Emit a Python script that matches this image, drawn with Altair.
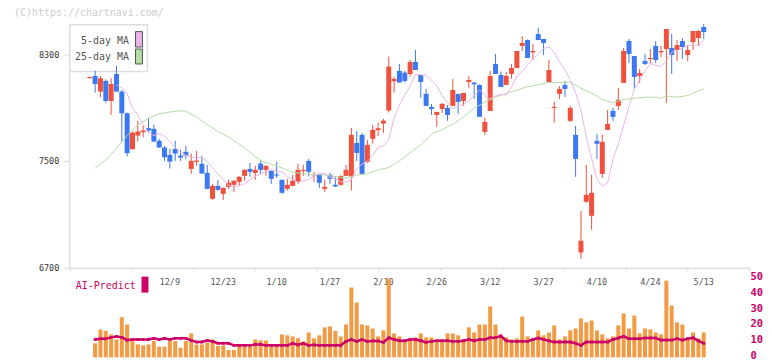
import altair as alt
import pandas as pd

# ---------------- data ----------------
date_labels = ["12/9", "12/23", "1/10", "1/27", "2/10", "2/26", "3/12", "3/27", "4/10", "4/24", "5/13"]
label_idx = [15, 25, 35, 45, 55, 65, 75, 85, 95, 105, 115]

opens = [8120,8136,8019,8099,7949,8151,8019,7857,7588,7690,
         7715,7745,7740,7650,7600,7545,7590,7540,7568,7440,
         7493,7478,7410,7216,7313,7253,7306,7321,7343,7388,
         7440,7410,7480,7433,7425,7398,7358,7291,7313,7343,
         7425,7500,7392,7396,7291,7396,7321,7321,7388,7383,
         7635,7695,7493,7665,7730,7780,7877,8097,8174,8161,
         8151,8241,8144,8002,7904,7844,7889,7897,7912,8002,
         7949,8091,8087,8069,7717,7874,8226,8144,8069,8151,
         8196,8361,8405,8313,8450,8413,8091,7897,8002,8069,
         7800,7695,6814,7194,7089,7650,7403,7732,7874,7912,
         8084,8398,8286,8136,8248,8263,8361,8313,8338,8346,
         8331,8398,8293,8390,8420,8503]
highs = [8132,8176,8136,8111,8119,8213,8031,7862,7720,7800,
         7762,7820,7770,7665,7612,7590,7650,7583,7612,7553,
         7575,7538,7470,7328,7358,7300,7358,7355,7385,7436,
         7485,7463,7508,7466,7428,7493,7361,7366,7396,7478,
         7470,7515,7418,7399,7358,7411,7381,7390,7470,7747,
         7725,7710,7657,7770,7785,7815,8281,8131,8226,8174,
         8256,8331,8144,8039,7927,7867,7934,7919,8114,8002,
         8009,8136,8090,8072,7822,8174,8301,8170,8166,8226,
         8323,8435,8410,8375,8495,8413,8256,7942,8061,8099,
         7912,7762,7126,7470,7396,7702,7695,7882,7897,8046,
         8346,8413,8286,8189,8301,8338,8398,8361,8488,8450,
         8405,8420,8368,8473,8480,8525]
lows = [8118,8011,7977,7937,7844,8019,7645,7533,7585,7645,
        7678,7712,7640,7598,7500,7443,7500,7500,7515,7403,
        7463,7405,7290,7209,7276,7209,7291,7268,7313,7351,
        7381,7358,7403,7388,7328,7373,7253,7276,7310,7328,
        7388,7383,7343,7298,7268,7328,7306,7313,7385,7278,
        7500,7403,7483,7628,7687,7710,7862,8011,8087,8087,
        8131,8181,7972,7912,7844,7755,7859,7800,7912,7852,
        7912,8046,7964,7830,7695,7874,8151,8054,8069,8114,
        8196,8323,8271,8256,8405,8293,8091,7785,7964,7979,
        7792,7381,6767,7186,6984,7515,7373,7732,7800,7882,
        8084,8233,8039,8084,8218,8226,8233,8278,7934,8151,
        8248,8263,8248,8331,8361,8413]
closes = [8128,8076,8119,7949,8076,8019,7857,7558,7712,7720,
          7727,7727,7645,7600,7528,7495,7555,7525,7540,7500,
          7503,7405,7290,7313,7283,7298,7336,7351,7381,7433,
          7418,7433,7433,7463,7366,7390,7261,7321,7351,7433,
          7433,7418,7400,7336,7306,7366,7308,7388,7433,7695,
          7560,7403,7620,7732,7745,7802,8206,8114,8087,8099,
          8241,8181,8091,7912,7889,7867,7927,7844,8031,7942,
          8009,8106,8074,7830,7792,8136,8151,8054,8136,8196,
          8323,8383,8271,8323,8405,8383,8181,7905,8039,8039,
          7897,7515,6902,7246,7261,7628,7643,7777,7830,7957,
          8323,8301,8129,8159,8226,8271,8256,8323,8488,8293,
          8368,8353,8331,8473,8473,8465]

# 5-day MA, from candle index 5 onwards
ma5 = [8069,8048,8004,7892,7844,7773,7715,7689,7706,7684,
       7645,7599,7565,7541,7529,7523,7525,7495,7448,7402,
       7359,7318,7304,7316,7330,7360,7384,7403,7420,7436,
       7423,7418,7383,7361,7339,7352,7360,7391,7407,7404,
       7378,7365,7343,7341,7360,7438,7477,7496,7542,7602,
       7612,7660,7821,7920,7991,8062,8149,8144,8140,8105,
       8063,7988,7937,7888,7912,7922,7951,7986,8032,7992,
       7962,7988,7997,7993,8054,8135,8172,8218,8262,8299,
       8341,8353,8313,8239,8182,8109,8012,7879,7678,7520,
       7364,7310,7336,7511,7628,7767,7906,8038,8108,8174,
       8228,8217,8208,8247,8313,8326,8346,8365,8367,8364,8400]

# 25-day MA, sampled along the curve
ma25_idx = [1,3,5,7,9,11,13,15,17,18,20,22,24,26,28,30,32,34,36,38,40,42,44,46,48,
            50,52,54,56,58,60,62,64,66,68,70,72,74,76,78,80,82,84,86,88,90,92,94,96,98,
            100,102,104,106,107,108,110,112,114,115]
ma25_val = [7446,7508,7595,7690,7770,7820,7852,7866,7876,7872,7828,7772,7720,7680,7625,
            7565,7500,7475,7448,7415,7404,7398,7396,7382,7372,7394,7403,7433,7450,7500,
            7560,7620,7700,7735,7775,7830,7895,7940,7978,8005,8030,8056,8070,8087,8087,
            8090,8044,8007,7960,7935,7960,7969,7977,7977,7969,7987,7977,7990,8025,8039]

# lower panel, from candle index 1 onwards
volume = [8.8,17.5,16.5,14.4,11.2,25.2,20.6,10.2,8.1,7.5,
          8.1,10.2,6.7,6.7,10.2,10.2,6.0,10.2,15.0,8.1,
          8.1,9.2,11.2,7.1,7.5,4.6,4.6,7.5,6.7,6.7,
          11.2,10.6,10.6,7.5,7.5,14.4,13.8,13.1,11.9,10.0,
          15.6,11.9,13.8,18.8,19.4,16.5,13.1,20.6,43.8,34.4,
          20.6,20.0,18.1,13.1,16.9,49.4,15.0,13.1,10.6,10.6,
          12.5,15.0,12.5,12.5,11.2,10.6,15.0,15.0,13.8,10.6,
          18.8,15.6,20.6,20.6,31.9,20.6,13.1,12.5,11.2,11.9,
          25.6,13.1,11.2,16.9,13.8,15.6,20.0,11.2,13.1,16.9,
          18.1,24.4,21.9,23.1,16.9,14.4,11.9,13.1,20.0,27.5,
          18.1,26.2,15.0,18.1,17.5,15.6,14.4,48.1,32.5,21.9,
          20.6,11.2,15.6,11.9,15.6]
ai_predict = [11.2,11.7,11.7,12.5,13.1,12.5,10.8,11.2,11.2,11.2,
              11.2,11.9,11.2,11.9,11.2,11.9,11.9,11.9,10.6,9.6,
              9.6,10.6,10.0,8.8,8.8,8.8,7.5,7.5,7.5,7.5,
              8.1,8.1,7.5,7.5,7.5,7.5,7.5,8.8,7.8,8.8,
              7.5,7.8,7.5,7.5,7.5,7.5,7.5,10.0,11.2,10.0,
              11.2,10.0,10.3,10.3,9.4,12.3,11.2,10.4,10.4,11.2,
              11.2,10.4,9.4,10.0,10.4,10.4,10.4,10.0,10.0,10.4,
              11.2,10.4,11.2,11.2,12.3,12.3,13.5,10.4,10.0,10.0,
              10.0,10.0,11.2,12.1,11.2,10.3,9.6,9.6,9.6,9.6,
              8.8,7.5,9.6,9.6,9.6,9.6,9.6,11.2,12.1,13.1,
              11.7,11.7,11.7,12.1,12.1,12.1,10.8,10.8,10.8,11.7,
              10.8,11.7,12.3,10.3,8.8]

price_ticks = [6700, 7500, 8300]
vol_ticks = [0, 10, 20, 30, 40, 50]

# ---------------- styling ----------------
MONO = "DejaVu Sans Mono"
RED = "#f0503c"
BLUE = "#3c78f0"
PINK = "#e8b4e8"
GREEN = "#b4dca4"
ORANGE = "#f39a44"
MAGENTA = "#cc0066"
LINE = "#e0e0e0"

W, H = 682, 335
X_MIN, X_MAX = -3.75, 123.49
P_MIN, P_MAX = 6029, 8528
V_MAX = 209.4

n = len(closes)
candles = pd.DataFrame({"i": list(range(n)), "open": opens, "high": highs,
                        "low": lows, "close": closes})
candles["color"] = [RED if c >= o else BLUE for o, c in zip(opens, closes)]
ma5_df = pd.DataFrame({"i": list(range(5, 5 + len(ma5))), "v": ma5})
ma25_df = pd.DataFrame({"i": ma25_idx, "v": ma25_val})
vol_df = pd.DataFrame({"i": list(range(1, 1 + len(volume))), "vol": volume, "ai": ai_predict})
lab_df = pd.DataFrame({"i": label_idx, "t": date_labels})
one = pd.DataFrame({"a": [0]})

xscale = alt.Scale(domain=[X_MIN, X_MAX], nice=False, zero=False, padding=0)
tick_vals = [X_MIN + k * (X_MAX - X_MIN) / 11 for k in range(12)]
xaxis = alt.Axis(values=tick_vals, labels=False, title=None, grid=False,
                 domainColor=LINE, domainWidth=1.5, tickColor=LINE, tickWidth=1.5,
                 tickSize=3, offset=-90)
xenc = alt.X("i:Q", scale=xscale, axis=xaxis)

pscale = alt.Scale(domain=[P_MIN, P_MAX], nice=False, zero=False, padding=0)
paxis = alt.Axis(values=price_ticks, format="d", title=None, grid=False, domain=False,
                 tickColor="#d8d8d8", tickSize=6, tickWidth=1, labelPadding=5,
                 labelFont=MONO, labelFontSize=8.5, labelColor="#333333")

vscale = alt.Scale(domain=[0, V_MAX], nice=False, zero=True, padding=0)
vaxis = alt.Axis(orient="right", values=vol_ticks, format="d", title=None, grid=False,
                 domain=False, ticks=False, labelPadding=1, labelOffset=-1.5,
                 labelFont=MONO, labelFontSize=10.5, labelFontWeight="bold",
                 labelColor=MAGENTA)

# ---------------- price panel ----------------
box = alt.Chart(one).mark_rect(fill="white", stroke="#dddddd", strokeWidth=1.5).encode(
    x=alt.value(0), x2=alt.value(78), y=alt.value(1), y2=alt.value(48))

vline = alt.Chart(one).mark_rule(color=LINE, strokeWidth=1.5).encode(
    x=alt.value(0), y=alt.Y(datum=6700, scale=pscale, axis=paxis), y2=alt.value(0))

wicks = alt.Chart(candles).mark_rule(strokeWidth=1).encode(
    x=xenc, y=alt.Y("low:Q", scale=pscale, axis=paxis), y2="high:Q",
    color=alt.Color("color:N", scale=None))

bodies = alt.Chart(candles).mark_bar(size=5).encode(
    x=xenc, y=alt.Y("open:Q", scale=pscale, axis=paxis), y2="close:Q",
    color=alt.Color("color:N", scale=None))

ma25_line = alt.Chart(ma25_df).mark_line(color=GREEN, strokeWidth=1).encode(
    x=xenc, y=alt.Y("v:Q", scale=pscale, axis=paxis))
ma5_line = alt.Chart(ma5_df).mark_line(color=PINK, strokeWidth=1).encode(
    x=xenc, y=alt.Y("v:Q", scale=pscale, axis=paxis))

txt = dict(font=MONO, fontSize=10, baseline="middle")
leg1 = alt.Chart(one).mark_text(text="5-day MA", align="right", color="#555555", **txt).encode(
    x=alt.value(59.5), y=alt.value(17))
leg2 = alt.Chart(one).mark_text(text="25-day MA", align="right", color="#555555", **txt).encode(
    x=alt.value(59.5), y=alt.value(34))
sw1 = alt.Chart(one).mark_rect(fill=PINK, stroke="#555555", strokeWidth=1).encode(
    x=alt.value(66), x2=alt.value(73), y=alt.value(8), y2=alt.value(23.5))
sw2 = alt.Chart(one).mark_rect(fill=GREEN, stroke="#555555", strokeWidth=1).encode(
    x=alt.value(66), x2=alt.value(73), y=alt.value(25.5), y2=alt.value(40.5))
wm = alt.Chart(one).mark_text(text="(C)https://chartnavi.com/", align="left",
                              color="#cccccc", **txt).encode(x=alt.value(-56), y=alt.value(-11))
ai_txt = alt.Chart(one).mark_text(text="AI-Predict", align="left", color=MAGENTA, **txt).encode(
    x=alt.value(6), y=alt.value(263))
ai_sw = alt.Chart(one).mark_rect(fill=MAGENTA).encode(
    x=alt.value(72), x2=alt.value(79), y=alt.value(254), y2=alt.value(270))
dates = alt.Chart(lab_df).mark_text(font=MONO, fontSize=8.5, color="#555555",
                                    baseline="middle", align="center").encode(
    x=xenc, y=alt.value(259), text="t:N")

price = alt.layer(box, vline, wicks, bodies, ma25_line, ma5_line,
                  leg1, leg2, sw1, sw2, wm, ai_txt, ai_sw, dates)

# ---------------- volume / AI-Predict panel ----------------
vbars = alt.Chart(vol_df).mark_bar(size=4, color=ORANGE).encode(
    x=xenc, y=alt.Y("vol:Q", scale=vscale, axis=vaxis), y2=alt.datum(0))
ai_line = alt.Chart(vol_df).mark_line(color=MAGENTA, strokeWidth=2.5).encode(
    x=xenc, y=alt.Y("ai:Q", scale=vscale, axis=vaxis))
ai_pts = alt.Chart(vol_df).mark_square(size=8, color=MAGENTA, opacity=1).encode(
    x=xenc, y=alt.Y("ai:Q", scale=vscale, axis=vaxis))

vol = alt.layer(vbars, ai_line, ai_pts)

chart = alt.layer(price, vol).resolve_scale(y="independent").properties(
    width=W, height=H,
    padding={"left": 62, "top": 15, "right": 15, "bottom": 3},
    autosize=alt.AutoSizeParams(type="none"),
    background="white",
).configure_view(stroke="transparent")

chart.save("out.html", embed_options={"renderer": "svg", "actions": False})
